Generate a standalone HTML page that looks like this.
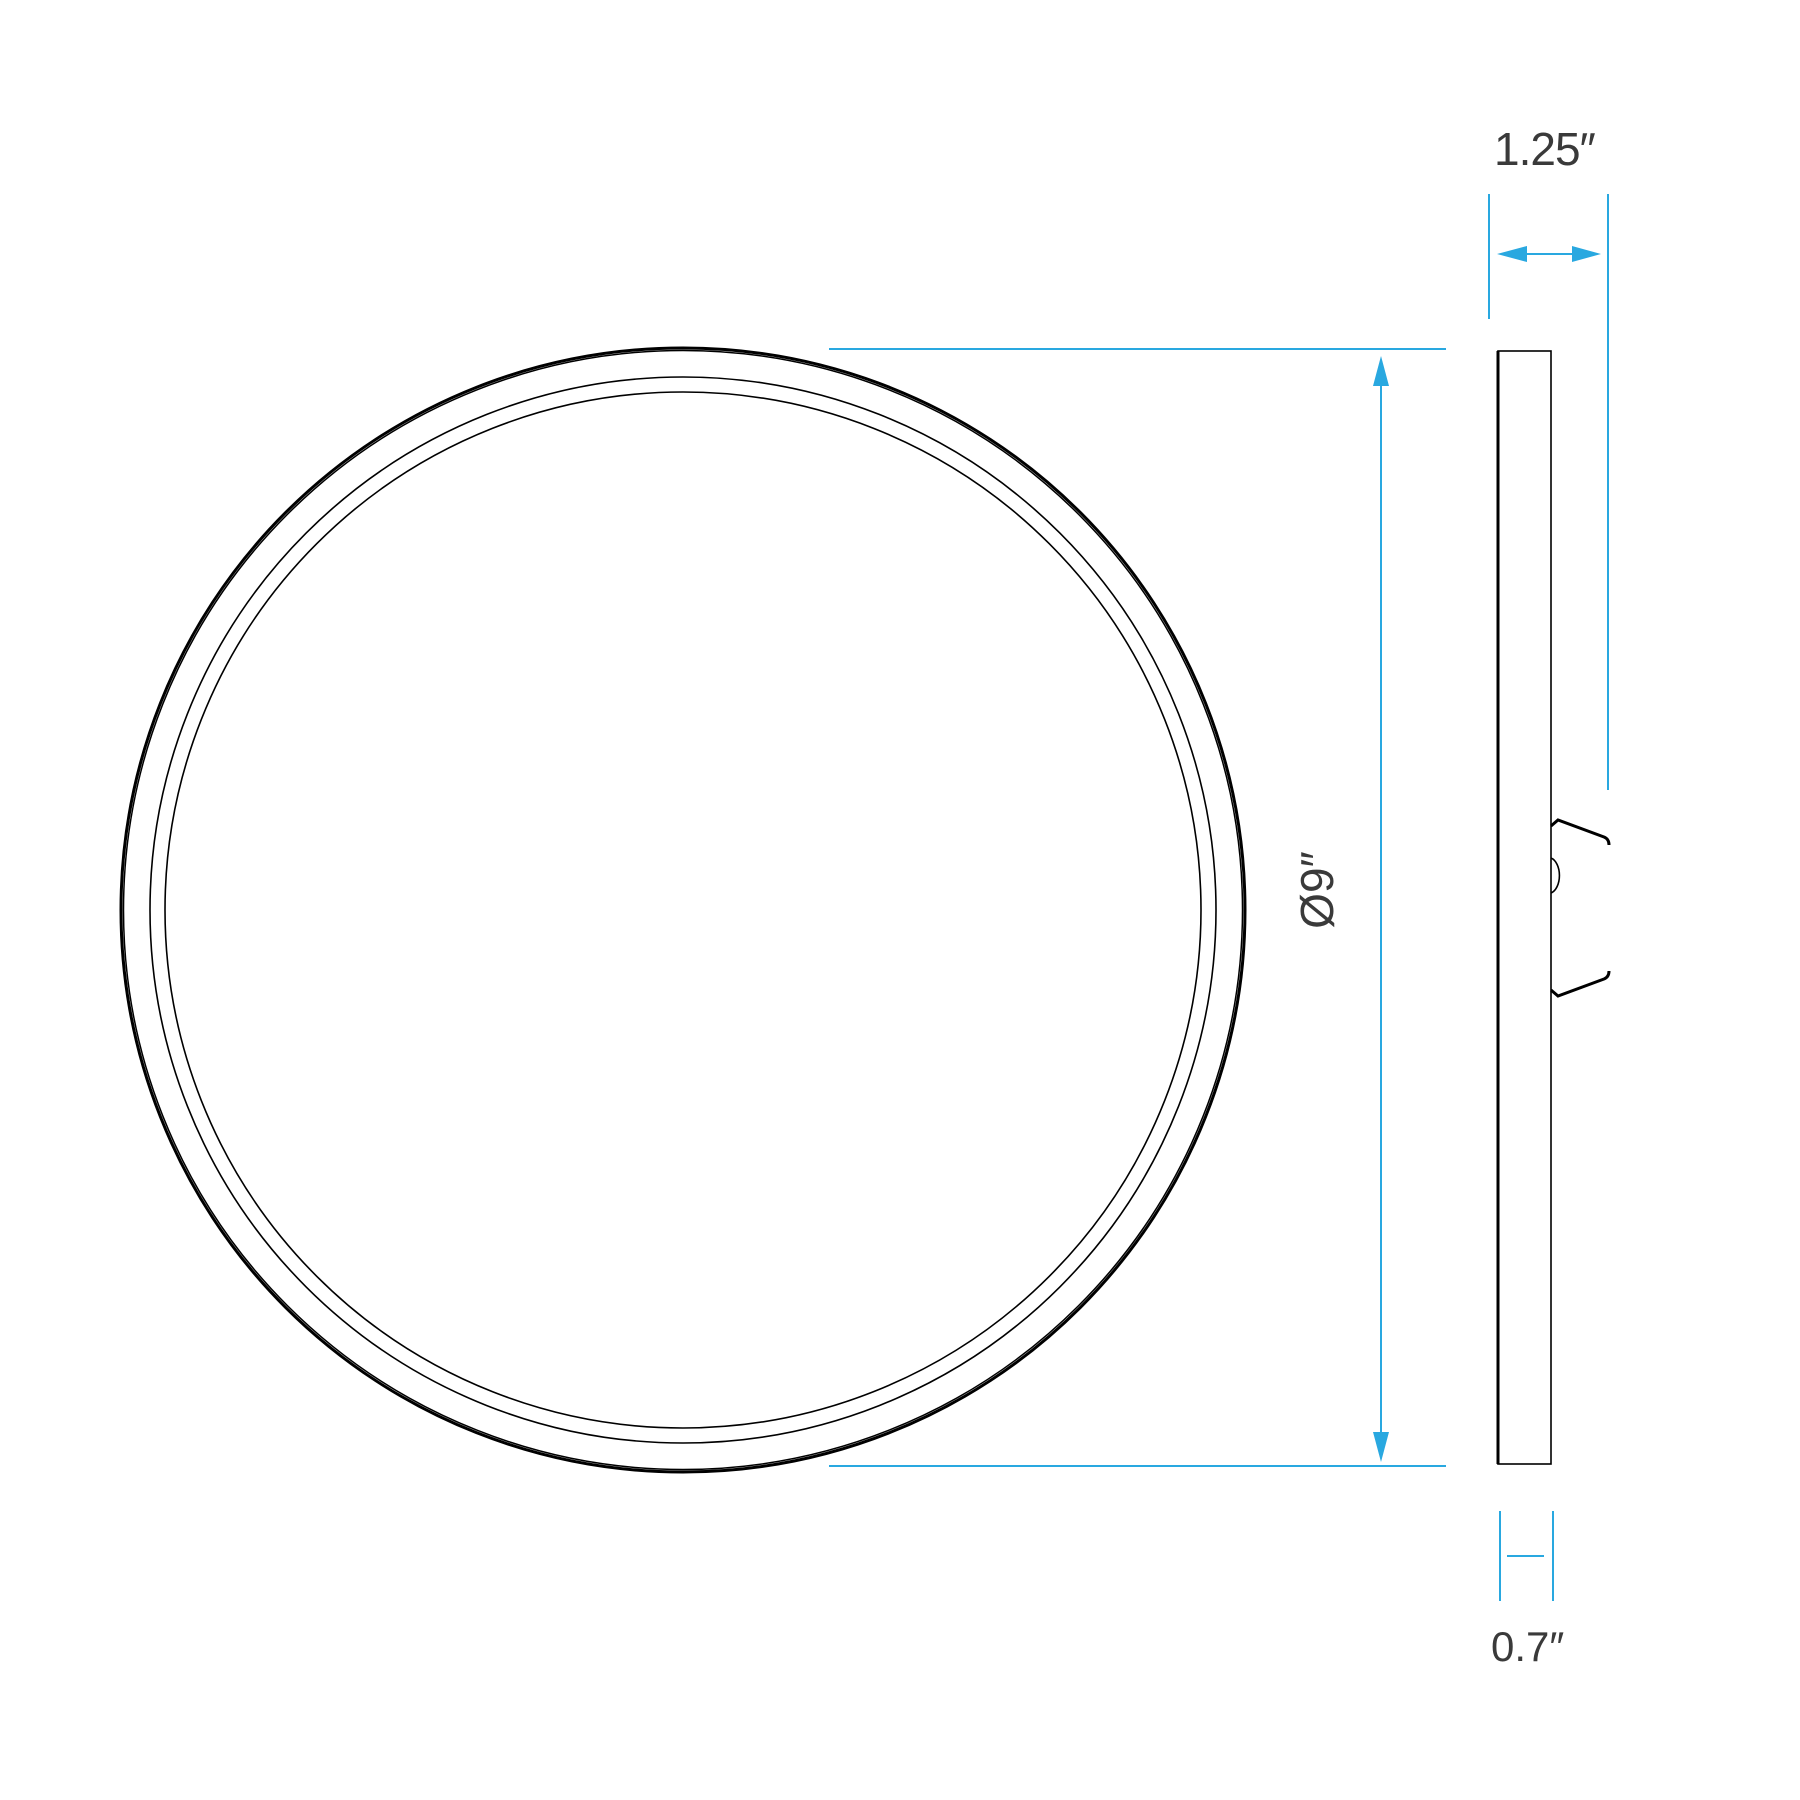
<!DOCTYPE html>
<html><head><style>html,body{margin:0;padding:0;background:#fff}svg{display:block}</style></head><body>
<svg width="1800" height="1800" viewBox="0 0 1800 1800" xmlns="http://www.w3.org/2000/svg">
<g fill="none" stroke="#000">
<circle cx="683" cy="910" r="562" stroke-width="3"/>
<circle cx="683" cy="910" r="559.5" stroke-width="1.5"/>
<circle cx="683" cy="910" r="533" stroke-width="1.6"/>
<circle cx="683" cy="910" r="518" stroke-width="1.6"/>
<rect x="1498" y="351" width="53" height="1113" stroke-width="1.6"/>
<line x1="1498" y1="351" x2="1498" y2="1464" stroke-width="3"/>
<path d="M1551 826 L1558 820 L1604 837 Q1609 839 1609 845" stroke-width="3"/>
<path d="M1551 990 L1558 996 L1604 979 Q1609 977 1609 971" stroke-width="3"/>
<path d="M1551 858 A11 18 0 0 1 1551 893" stroke-width="1.6"/>
</g>
<g stroke="#29a8e0" stroke-width="2" fill="none">
<line x1="1489" y1="194" x2="1489" y2="319"/>
<line x1="1608" y1="194" x2="1608" y2="790"/>
<line x1="1520" y1="254" x2="1580" y2="254"/>
<line x1="829" y1="349" x2="1446" y2="349"/>
<line x1="829" y1="1466" x2="1446" y2="1466"/>
<line x1="1381" y1="380" x2="1381" y2="1440"/>
<line x1="1500" y1="1511" x2="1500" y2="1601"/>
<line x1="1553" y1="1511" x2="1553" y2="1601"/>
<line x1="1507" y1="1556" x2="1544" y2="1556"/>
</g>
<g fill="#29a8e0">
<polygon points="1497,254 1527,246 1527,262"/>
<polygon points="1601,254 1572,246 1572,262"/>
<polygon points="1381,356 1373,386 1389,386"/>
<polygon points="1381,1462 1373,1432 1389,1432"/>
</g>
<g font-family="Liberation Sans, sans-serif" fill="#3a3a3a" font-weight="300">
<text x="1494" y="165" font-size="46" letter-spacing="-1">1.25″</text>
<text x="1491" y="1661" font-size="42">0.7″</text>
<text transform="translate(1333,890) rotate(-90)" text-anchor="middle" font-size="46">Ø9″</text>
</g>
</svg>
</body></html>
